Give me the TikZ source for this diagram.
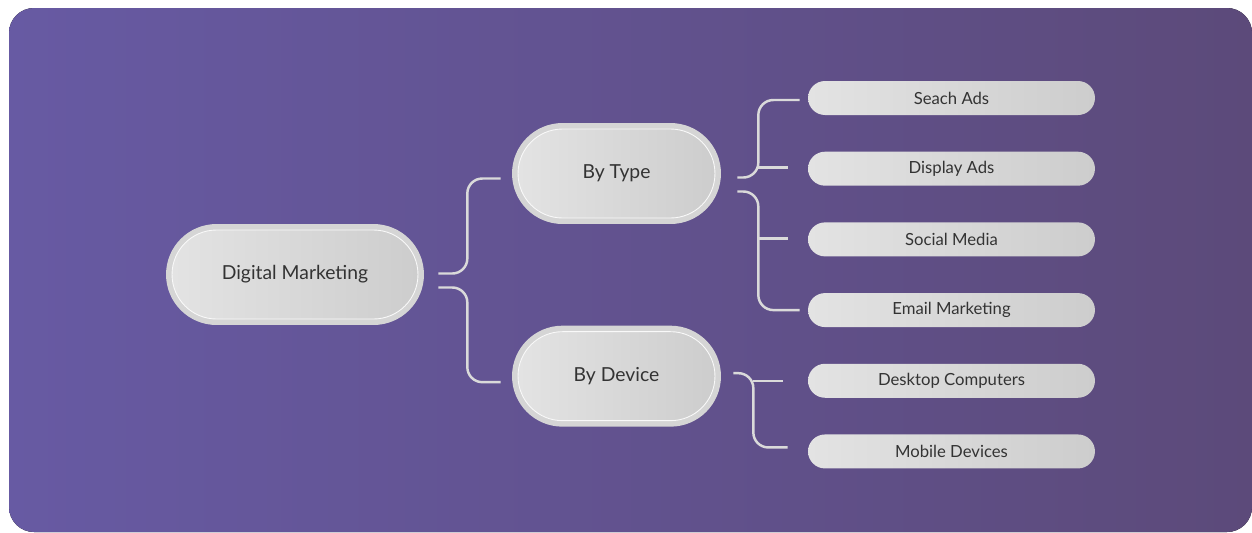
\documentclass[tikz,border=0pt]{standalone}
\usepackage{fontspec}
\setmainfont{Lato}
\usetikzlibrary{positioning,calc,shapes.misc}
\definecolor{bgleft}{HTML}{675AA3}
\definecolor{bgright}{HTML}{5C4A7A}
\definecolor{pilllight}{HTML}{E3E3E3}
\definecolor{pilldark}{HTML}{CDCDCD}
\definecolor{ringgray}{HTML}{D5D5D5}
\definecolor{linkgray}{HTML}{DADADA}
\definecolor{inkgray}{HTML}{333333}

\begin{document}
\begin{tikzpicture}[x=0.02cm, y=-0.02cm, font=\fontsize{11}{13}\selectfont, node distance=0.72cm]
  \tikzstyle{ring}=[rounded rectangle, fill=ringgray, minimum height=2.02cm, inner sep=0pt]
  \tikzstyle{core}=[rounded rectangle, left color=pilllight, right color=pilldark, draw=white!80!pilllight, line width=0.5pt, minimum height=1.78cm, inner sep=0pt, text=inkgray]
  \tikzstyle{leaf}=[rounded rectangle, left color=pilllight, right color=pilldark, minimum width=5.74cm, minimum height=0.68cm, inner sep=0pt, text=inkgray, font=\fontsize{9.5}{11}\selectfont]
  \tikzstyle{link}=[draw=linkgray, line width=1.4pt, rounded corners=0.3cm]
  \useasboundingbox (0,0) rectangle (1252,532);
  \fill[left color=bgleft, right color=bgright, rounded corners=0.5cm] (9,8) rectangle (1252,532);
  % main topics
  \node[ring, minimum width=5.16cm] (dm) at (295,274.5) {};
  \node[core, minimum width=4.92cm] (dmin) at (dm) {Digital Marketing};
  \node[ring, minimum width=4.18cm] (bytype) at (616.5,173.5) {};
  \node[core, minimum width=3.94cm] (bytypein) at (bytype) {By Type};
  \node[ring, minimum width=4.18cm, below=2.02cm of bytype] (bydev) {};
  \node[core, minimum width=3.94cm] (bydevin) at (bydev) {By Device};
  % leaves
  \node[leaf] (seach) at (951.5,98) {Seach Ads};
  \node[leaf, below=of seach] (display) {Display Ads};
  \node[leaf, below=of display] (social) {Social Media};
  \node[leaf, below=of social] (email) {Email Marketing};
  \node[leaf, below=of email] (desk) {Desktop Computers};
  \node[leaf, below=of desk] (mobile) {Mobile Devices};
  % brackets
  \draw[link] ($(dm.east)+(14,-1)$) -- ++(29,0) |- ($(bytype.west)+(-11,5)$);
  \draw[link] ($(dm.east)+(14,13)$) -- ++(29,0) |- ($(bydev.west)+(-11,6)$);
  \draw[link] ($(bytype.east)+(16,4)$) -- ++(21,0) |- ($(seach.west)+(-8,2)$);
  \draw[link] ($(display.west)+(-20,-1)$) -- ++(-30,0);
  \draw[link] ($(bytype.east)+(16,18)$) -- ++(21,0) |- ($(email.west)+(-8,0)$);
  \draw[link] ($(social.west)+(-20,-1)$) -- ++(-30,0);
  \draw[link] ($(bydev.east)+(12,-3)$) -- ++(20,0) |- ($(mobile.west)+(-20,-4)$);
  \draw[link] ($(desk.west)+(-25,0)$) -- ++(-30,0);
\end{tikzpicture}
\end{document}
